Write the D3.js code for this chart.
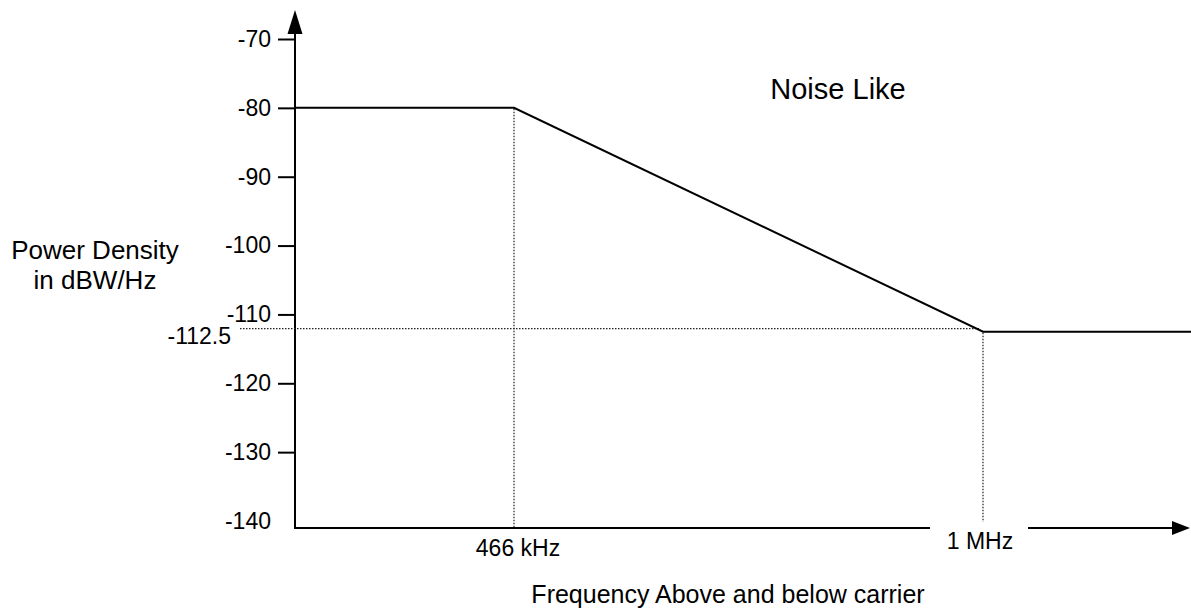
<!DOCTYPE html>
<html>
<head>
<meta charset="utf-8">
<script src="https://cdn.jsdelivr.net/npm/d3@7"></script>
<style>
  html, body { margin: 0; padding: 0; background: #fff; }
  svg { display: block; font-family: "Liberation Sans", Arial, sans-serif; }
</style>
</head>
<body>
<div id="chart"></div>
<script>
// mask breakpoints (frequency offset in kHz, level in dBW/Hz)
const freqs = [0, 466, 1000, 1450];
const levels = [-80, -80, -112.5, -112.5];
const yTicks = [-70, -80, -90, -100, -110, -120, -130, -140];
const markerFreqs = [466, 1000];
const markerLabels = ["466 kHz", "1 MHz"];
const floorLevel = -112.5;

const width = 1191;
const height = 612;

const svg = d3.select("#chart")
  .append("svg")
  .attr("width", width)
  .attr("height", height);

// schematic frequency axis, not to scale
const x = d3.scaleLinear().domain([0, 466, 1000, 1450]).range([295, 514, 983, 1191]);
const y = d3.scaleLinear().domain([-140, -70]).range([521, 39]);
const baseY = y(-140) + 7;

// y axis with ticks
const yAxis = svg.append("g")
  .attr("transform", `translate(${x(0)},0)`)
  .call(d3.axisLeft(y).tickValues(yTicks).tickSize(17).tickPadding(7).tickFormat((d) => String(d)));
yAxis.select(".domain").remove();
yAxis.selectAll(".tick line").attr("stroke", "#000").attr("stroke-width", 2)
  .filter((d) => d === -140).remove();
yAxis.selectAll(".tick text")
  .attr("font-size", 23)
  .attr("font-family", "Liberation Sans, Arial, sans-serif")
  .attr("fill", "#000");

// vertical axis line + arrow
svg.append("line")
  .attr("x1", x(0)).attr("x2", x(0))
  .attr("y1", baseY).attr("y2", 33)
  .attr("stroke", "#000").attr("stroke-width", 2);
svg.append("path")
  .attr("d", `M${x(0)},10 L${x(0) - 7.5},34 L${x(0) + 7.5},34 Z`)
  .attr("fill", "#000");

// horizontal axis, broken around the 1 MHz label
svg.append("line")
  .attr("x1", x(0) - 1).attr("x2", 930)
  .attr("y1", baseY).attr("y2", baseY)
  .attr("stroke", "#000").attr("stroke-width", 2);
svg.append("line")
  .attr("x1", 1028).attr("x2", 1175)
  .attr("y1", baseY).attr("y2", baseY)
  .attr("stroke", "#000").attr("stroke-width", 2);
svg.append("path")
  .attr("d", `M1190,${baseY} L1172,${baseY - 7} L1172,${baseY + 7} Z`)
  .attr("fill", "#000");

// dotted guides
const dotted = svg.append("g")
  .attr("stroke", "#222")
  .attr("stroke-width", 1.2)
  .attr("stroke-dasharray", "1.5,1.5")
  .attr("fill", "none");

dotted.selectAll("line.v")
  .data(markerFreqs)
  .join("line")
  .attr("class", "v")
  .attr("x1", (d) => x(d)).attr("x2", (d) => x(d))
  .attr("y1", (d) => y(levels[freqs.indexOf(d)]) + 1)
  .attr("y2", (d, i) => i === 0 ? baseY - 1 : baseY - 6);

dotted.append("line")
  .attr("x1", 240).attr("x2", x(1000) - 4)
  .attr("y1", y(floorLevel) - 3).attr("y2", y(floorLevel) - 3);

// mask line
const line = d3.line()
  .x((d) => x(d[0]))
  .y((d) => y(d[1]));

svg.append("path")
  .datum(d3.zip(freqs, levels))
  .attr("d", line)
  .attr("fill", "none")
  .attr("stroke", "#000")
  .attr("stroke-width", 2);

// labels
const text = (tx, ty, str, size, anchor) =>
  svg.append("text")
    .attr("x", tx).attr("y", ty)
    .attr("font-size", size)
    .attr("text-anchor", anchor || "middle")
    .attr("fill", "#000")
    .text(str);

text(231, y(floorLevel) + 12, String(floorLevel), 23, "end");

svg.selectAll("text.marker")
  .data(markerFreqs)
  .join("text")
  .attr("class", "marker")
  .attr("x", (d, i) => i === 0 ? x(d) + 4 : x(d) - 3)
  .attr("y", (d, i) => i === 0 ? 556 : 549)
  .attr("text-anchor", "middle")
  .attr("font-size", 23)
  .attr("fill", "#000")
  .text((d, i) => markerLabels[i]);

text(95, 259, "Power Density", 26);
text(95, 289, "in dBW/Hz", 26);
text(838, 99, "Noise Like", 29);
text(728, 603, "Frequency Above and below carrier", 25);
</script>
</body>
</html>
